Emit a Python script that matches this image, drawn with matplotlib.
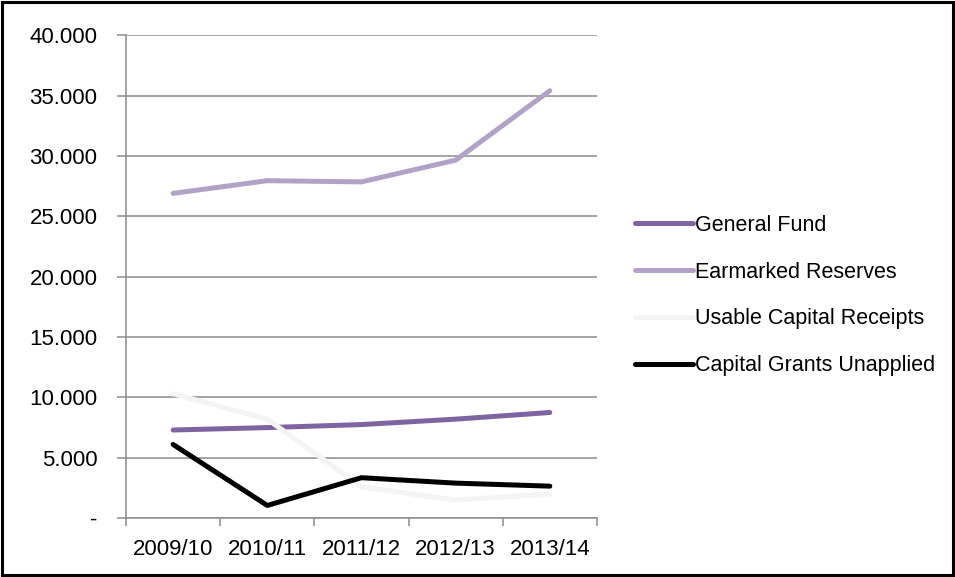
import matplotlib.pyplot as plt
import numpy as np
from matplotlib.patches import Rectangle
from matplotlib.ticker import FuncFormatter

plt.rcParams['font.family'] = ['Liberation Sans', 'DejaVu Sans']

years = ["2009/10", "2010/11", "2011/12", "2012/13", "2013/14"]

# reserve balances, in thousands
general_fund = [7300, 7500, 7750, 8200, 8750]
earmarked = [26900, 27950, 27850, 29650, 35400]
usable_capital = [10300, 8200, 2600, 1500, 2000]
grants_unapplied = [6100, 1050, 3350, 2900, 2650]

series = [
    ("General Fund", general_fund, "#8064A2"),
    ("Earmarked Reserves", earmarked, "#B3A2C7"),
    ("Usable Capital Receipts", usable_capital, "#F4F4F4"),
    ("Capital Grants Unapplied", grants_unapplied, "#000000"),
]

fig = plt.figure(figsize=(9.55, 5.77), dpi=100)
ax = fig.add_axes([0.132, 0.102, 0.493, 0.837])

x = np.arange(len(years))
for name, vals, col in series:
    ax.plot(x, vals, color=col, lw=3.6, solid_capstyle="round", label=name)

ax.set_xlim(-0.5, len(years) - 0.5)
ax.set_ylim(0, 40000)
ax.set_yticks(np.arange(0, 40001, 5000))
ax.yaxis.set_major_formatter(
    FuncFormatter(lambda v, p: "-" if v == 0 else f"{v / 1000:.3f}")
)
ax.grid(axis="y", color="#8c8c8c", lw=1.1)
ax.set_axisbelow(True)

ax.set_xticks(x)
ax.set_xticklabels(years)
ax.set_xticks(np.arange(-0.5, len(years)), minor=True)
ax.tick_params(axis="x", which="major", length=0, pad=15, labelsize=16)
ax.tick_params(axis="x", which="minor", length=6, color="#8c8c8c", width=1.1)
ax.tick_params(axis="y", length=6.5, color="#8c8c8c", width=1.1, labelsize=16, pad=14)

for side in ("top", "right"):
    ax.spines[side].set_visible(False)
for side in ("left", "bottom"):
    ax.spines[side].set_color("#8c8c8c")
    ax.spines[side].set_linewidth(1.1)

ax.legend(
    loc="center left",
    bbox_to_anchor=(0.645, 0.488),
    bbox_transform=fig.transFigure,
    frameon=False,
    fontsize=15.5,
    handlelength=2.7,
    handletextpad=0.05,
    labelspacing=1.2,
)

fig.patches.append(
    Rectangle((0.002, 0.003), 0.996, 0.994, transform=fig.transFigure,
              fill=False, edgecolor="black", lw=2.2)
)

fig.savefig("out.png", dpi=100)
